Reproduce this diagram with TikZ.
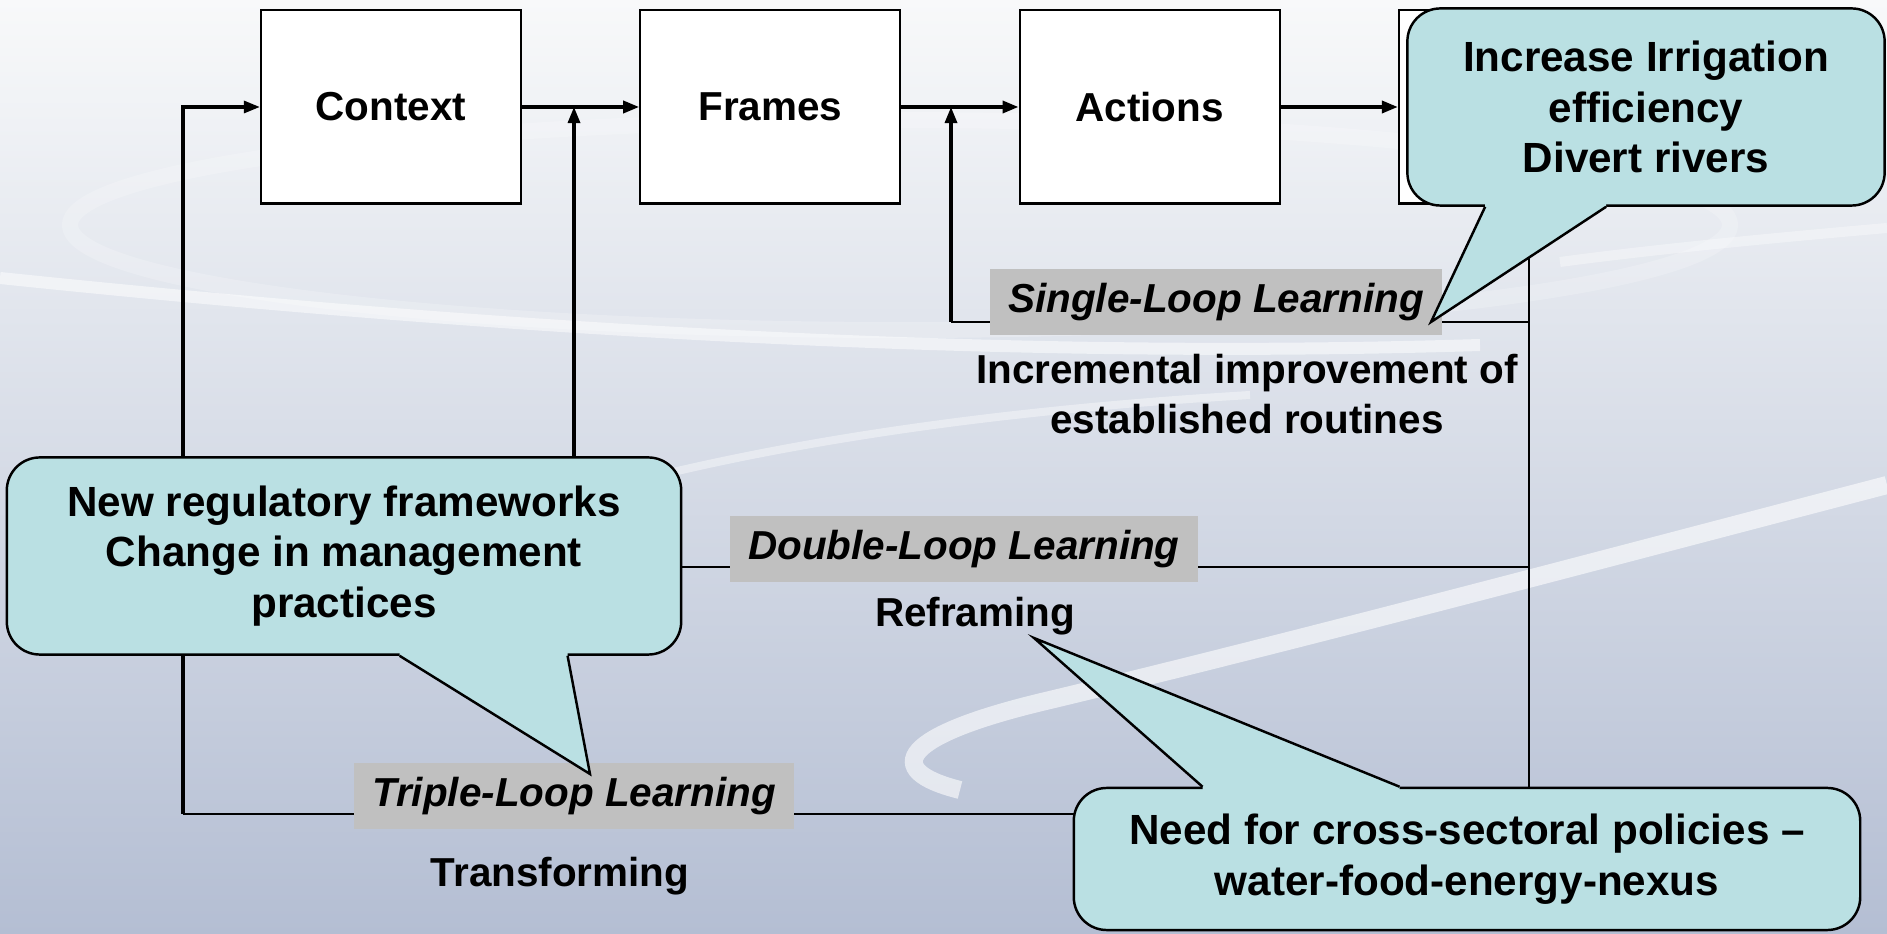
\documentclass[tikz,border=0pt]{standalone}
\usepackage{fontspec}
\setmainfont{Liberation Sans}
\usepackage{xcolor}
\usetikzlibrary{arrows.meta}
\usetikzlibrary{positioning}
\usetikzlibrary{calc}

\definecolor{bubblefill}{HTML}{BAE0E3}
\definecolor{tagfill}{HTML}{C0C0C0}
\definecolor{bgtop}{HTML}{F8F9FA}
\definecolor{bgmid}{HTML}{DDE1EA}
\definecolor{bgbot}{HTML}{B4BED3}

\begin{document}
\begin{tikzpicture}[x=0.01cm, y=-0.01cm,
        stage/.style = {draw, fill=white, line width=0.6pt, minimum width=2.6cm, minimum height=1.93cm,
            font=\bfseries\fontsize{11.5}{14}\selectfont},
        looptag/.style = {fill=tagfill, inner xsep=0.18cm, minimum height=0.66cm,
            font=\bfseries\itshape\fontsize{11.5}{14}\selectfont},
        note/.style = {align=center, inner sep=0pt, font=\bfseries\fontsize{11.5}{14.3}\selectfont},
        bubble/.style = {draw, fill=bubblefill, line width=0.7pt, rounded corners=0.33cm, align=center,
            font=\bfseries\fontsize{12}{14.4}\selectfont},
        flow/.style = {line width=1pt, -{Triangle[length=0.16cm, width=0.12cm]}},
        feed/.style = {line width=0.9pt, -{Triangle[length=0.16cm, width=0.12cm]}},
        thinline/.style = {line width=0.5pt}
    ]
        % background
        \shade[top color=bgtop, middle color=bgmid, bottom color=bgbot] (0,0) rectangle (1887,934);
        \useasboundingbox (0,0) rectangle (1887,934);
        \draw[white, opacity=0.2, line width=0.16cm] (900,225) ellipse (830 and 105);
        \draw[white, opacity=0.5, line width=0.12cm] (0,278) .. controls (500,330) and (1000,360) .. (1480,345);
        \draw[white, opacity=0.4, line width=0.08cm] (640,480) .. controls (800,440) and (1000,410) .. (1250,395);
        \draw[white, opacity=0.35, line width=0.1cm] (1887,228) .. controls (1750,240) and (1650,250) .. (1560,262);
        \draw[white, opacity=0.6, line width=0.18cm] (960,790) .. controls (880,770) and (900,735) .. (1050,700)
            .. controls (1300,640) and (1600,560) .. (1887,485);

        % stages
        \node[stage] (ctx) at (391,107) {Context};
        \node[stage] (frm) [right=1.17cm of ctx] {Frames};
        \node[stage] (act) [right=1.17cm of frm] {Actions};
        \node[stage] (res) [right=1.17cm of act] {};

        \draw[flow] (ctx) -- (frm);
        \draw[flow] (frm) -- (act);
        \draw[flow] (act) -- (res);

        % loops
        \coordinate (tloop) at (183,814);
        \coordinate (dloop) at (574,567);
        \coordinate (sloop) at (951,322);
        \draw[thinline] (res.south) |- (tloop);
        \draw[feed] (tloop) |- (ctx.west);
        \draw[thinline] (res.south |- dloop) -- (dloop);
        \draw[feed] (dloop) -- (dloop |- ctx.east);
        \draw[thinline] (res.south |- sloop) -- (sloop);
        \draw[feed] (sloop) -- (sloop |- act.west);

        \node[looptag] (sgl) at (1216,302) {Single-Loop Learning};
        \node[looptag] (dbl) at (964,549) {Double-Loop Learning};
        \node[looptag] (tpl) at (574,796) {Triple-Loop Learning};

        \node[note] (inc) at (1247,394) {Incremental improvement of\\established routines};
        \node[note] (ref) at (975,616) {Reframing};
        \node[note] (trf) at (560,876) {Transforming};

        % callouts
        \node[bubble, minimum width=4.77cm, minimum height=1.97cm] (irr) at (1646,107)
            {Increase Irrigation\\efficiency\\Divert rivers};
        \coordinate (irrtip) at (1431,322);
        \fill[bubblefill] ($(irr.south west)+(79,0)$) -- (irrtip) -- ($(irr.south west)+(200,0)$)
            -- ($(irr.south west)+(200,-5)$) -- ($(irr.south west)+(79,-5)$) -- cycle;
        \draw[line width=0.7pt] ($(irr.south west)+(79,0)$) -- (irrtip) -- ($(irr.south west)+(200,0)$);

        \node[bubble, minimum width=6.74cm, minimum height=1.97cm] (reg) at (344,556)
            {New regulatory frameworks\\Change in management\\practices};
        \coordinate (regtip) at (590,774);
        \fill[bubblefill] ($(reg.south west)+(394,0)$) -- (regtip) -- ($(reg.south west)+(562,0)$)
            -- ($(reg.south west)+(562,-5)$) -- ($(reg.south west)+(394,-5)$) -- cycle;
        \draw[line width=0.7pt] ($(reg.south west)+(394,0)$) -- (regtip) -- ($(reg.south west)+(562,0)$);

        \node[bubble, minimum width=7.86cm, minimum height=1.42cm] (nex) at (1467,859)
            {Need for cross-sectoral policies --\\water-food-energy-nexus};
        \coordinate (nextip) at (1034,638);
        \fill[bubblefill] ($(nex.north west)+(130,0)$) -- (nextip) -- ($(nex.north west)+(327,0)$)
            -- ($(nex.north west)+(327,5)$) -- ($(nex.north west)+(130,5)$) -- cycle;
        \draw[line width=0.7pt] ($(nex.north west)+(130,0)$) -- (nextip) -- ($(nex.north west)+(327,0)$);
    \end{tikzpicture}
\end{document}
